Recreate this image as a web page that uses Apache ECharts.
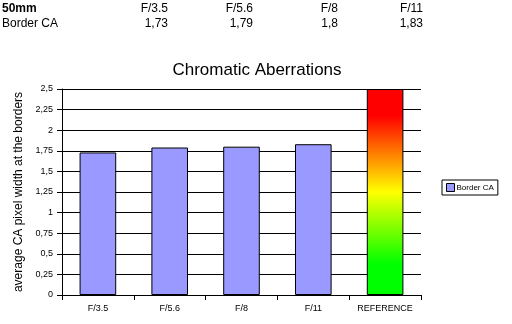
<!DOCTYPE html>
<html><head><meta charset="utf-8">
<script src="https://cdn.jsdelivr.net/npm/echarts@6/dist/echarts.min.js"></script>
<style>html,body{margin:0;padding:0;background:#fff}#c{width:512px;height:324px}</style>
</head><body><div id="c"></div>
<script>
const categories = ['F/3.5', 'F/5.6', 'F/8', 'F/11', 'REFERENCE'];
const borderCA = [1.73, 1.79, 1.8, 1.83];
const referenceValue = 2.5;
const tableHeader = ['F/3.5', 'F/5.6', 'F/8', 'F/11'];
const tableValues = ['1,73', '1,79', '1,8', '1,83'];

const FONT = 'Liberation Sans, Arial, sans-serif';
const chart = echarts.init(document.getElementById('c'));

const colEnds = [168, 253, 338, 423];
const graphic = [
  {type:'text', left:2, top:3, style:{text:'50mm', font:'bold 12px ' + FONT, fill:'#000'}},
  {type:'text', left:2, top:18, style:{text:'Border CA', font:'12px ' + FONT, fill:'#000'}}
];
tableHeader.forEach((t, i) => graphic.push({type:'text', x:colEnds[i], y:3, style:{text:t, font:'12px ' + FONT, fill:'#000', align:'right', verticalAlign:'top'}}));
tableValues.forEach((t, i) => graphic.push({type:'text', x:colEnds[i], y:18, style:{text:t, font:'12px ' + FONT, fill:'#000', align:'right', verticalAlign:'top'}}));

const refGradient = new echarts.graphic.LinearGradient(0, 0, 0, 1, [
  {offset:0, color:'#ff0000'},
  {offset:0.13, color:'#ff0000'},
  {offset:0.5, color:'#ffff00'},
  {offset:0.85, color:'#00ff00'},
  {offset:1, color:'#00ff00'}
]);

const seriesData = borderCA.map(v => v);
seriesData.push({value: referenceValue, itemStyle:{color: refGradient}});

chart.setOption({
  animation:false,
  backgroundColor:'#fff',
  title:{text:'Chromatic Aberrations', left:252, textAlign:'center', top:57,
    textStyle:{fontFamily:FONT, fontSize:17, fontWeight:'normal', color:'#000'}},
  graphic: graphic,
  grid:{left:62, right:91, top:89, bottom:29},
  legend:{data:['Border CA'], left:442, top:180, orient:'vertical',
    padding:[3,4,3,4], borderColor:'#000', borderWidth:1, itemWidth:8, itemHeight:8, itemGap:0,
    icon:'rect', textStyle:{fontFamily:FONT, fontSize:8, color:'#000', padding:[0,0,0,-3]},
    itemStyle:{borderColor:'#000', borderWidth:1}},
  xAxis:{type:'category', data:categories,
    axisLine:{lineStyle:{color:'#000', width:1}},
    axisTick:{show:true, length:5, lineStyle:{color:'#000'}},
    axisLabel:{fontFamily:FONT, fontSize:9, color:'#000', margin:9, interval:0}},
  yAxis:{type:'value', min:0, max:2.5, interval:0.25,
    name:'average CA pixel width at the borders', nameLocation:'middle', nameGap:31,
    nameTextStyle:{fontFamily:FONT, fontSize:12, color:'#000'},
    axisLine:{show:true, lineStyle:{color:'#000'}},
    axisTick:{show:true, length:5, lineStyle:{color:'#000'}},
    axisLabel:{fontFamily:FONT, fontSize:9, color:'#000', margin:9,
      formatter: v => String(v).replace('.', ',')},
    splitLine:{show:true, lineStyle:{color:'#000', width:1}}},
  series:[{name:'Border CA', type:'bar', data:seriesData, barWidth:'51%',
    itemStyle:{color:'#9999ff', borderColor:'#000', borderWidth:1}}]
});
</script></body></html>
